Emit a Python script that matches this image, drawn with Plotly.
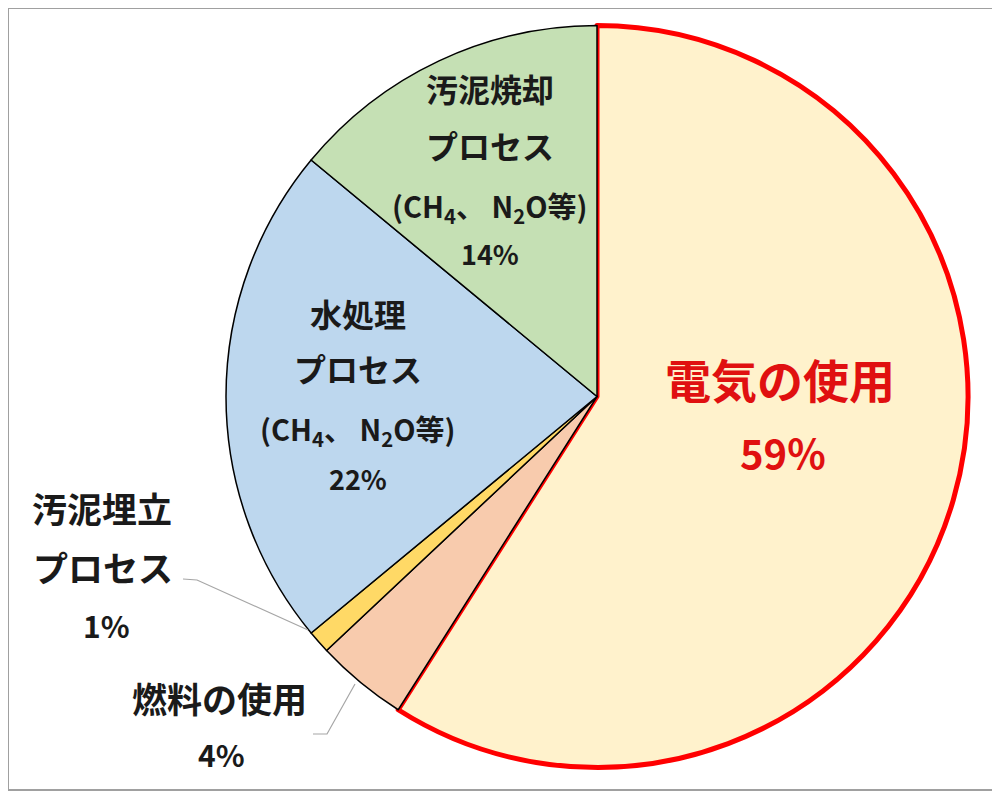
import plotly.graph_objects as go

# slices, clockwise from 12 o'clock
labels = ["電気の使用", "燃料の使用", "汚泥埋立プロセス", "水処理プロセス", "汚泥焼却プロセス"]
values = [59, 4, 1, 22, 14]
colors = ["#FFF2CC", "#F8CBAD", "#FFD966", "#BDD7EE", "#C5E0B4"]

# label lines as shown in the chart (the % line is added from values)
label_lines = [
    ["電気の使用"],
    ["燃料の使用"],
    ["汚泥埋立", "プロセス"],
    ["水処理", "プロセス", "(CH<sub>4</sub>、 N<sub>2</sub>O等)"],
    ["汚泥焼却", "プロセス", "(CH<sub>4</sub>、 N<sub>2</sub>O等)"],
]

W, H = 1000, 792
OFF = 8  # page body margin
FONT = "Noto Sans CJK JP"


def px(x, y):
    # reference pixel -> paper coords
    return (x - OFF) / W, 1 - (y - OFF) / H


fig = go.Figure()
fig.add_trace(go.Pie(
    labels=labels,
    values=values,
    sort=False,
    direction="clockwise",
    rotation=0,
    textinfo="none",
    hoverinfo="label+percent",
    marker=dict(colors=colors,
                line=dict(color=["#FF0000", "#000000", "#000000", "#000000", "#000000"],
                          width=[5, 1.5, 1.5, 1.5, 1.5])),
    domain=dict(x=[px(226, 0)[0], px(968, 0)[0]], y=[px(0, 768)[1], px(0, 25)[1]]),
    showlegend=False,
))

# pixel centre of each line of each label, and font size per line
line_pos = [
    [(780, 378), (783, 452)],
    [(219, 697), (221, 754)],
    [(102, 507), (103, 566), (106, 625)],
    [(358, 313), (358, 368), (358, 430), (358, 478)],
    [(490, 88), (490, 145), (490, 207), (490, 253)],
]
line_size = [
    [46, 40],
    [35, 30],
    [35, 35, 30],
    [32, 32, 29, 27],
    [32, 32, 29, 27],
]

annotations = []
for i, lines in enumerate(label_lines):
    texts = lines + ["{}%".format(values[i])]
    for t, (x, y), s in zip(texts, line_pos[i], line_size[i]):
        xx, yy = px(x, y)
        col = "#E01010" if i == 0 else "#1A1A1A"
        annotations.append(dict(x=xx, y=yy, xref="paper", yref="paper", text="<b>" + t + "</b>",
                                showarrow=False, font=dict(family=FONT, size=s, color=col),
                                xanchor="center", yanchor="middle"))

# leader lines for the two small slices
shapes = [
    dict(type="path", xref="paper", yref="paper",
         path="M {},{} L {},{} L {},{}".format(*px(183, 579), *px(197, 580), *px(308, 630)),
         line=dict(color="#A6A6A6", width=1.2)),
    dict(type="path", xref="paper", yref="paper",
         path="M {},{} L {},{} L {},{}".format(*px(313, 734), *px(327, 734), *px(355, 684)),
         line=dict(color="#A6A6A6", width=1.2)),
    dict(type="rect", xref="paper", yref="paper", x0=0, y0=px(0, 790)[1], x1=px(998, 0)[0], y1=1,
         line=dict(color="#A0A0A0", width=2)),
]

fig.update_layout(
    width=W, height=H,
    margin=dict(l=0, r=0, t=0, b=0),
    paper_bgcolor="white",
    plot_bgcolor="white",
    annotations=annotations,
    shapes=shapes,
    font=dict(family=FONT),
)

fig.write_html("out.html")
